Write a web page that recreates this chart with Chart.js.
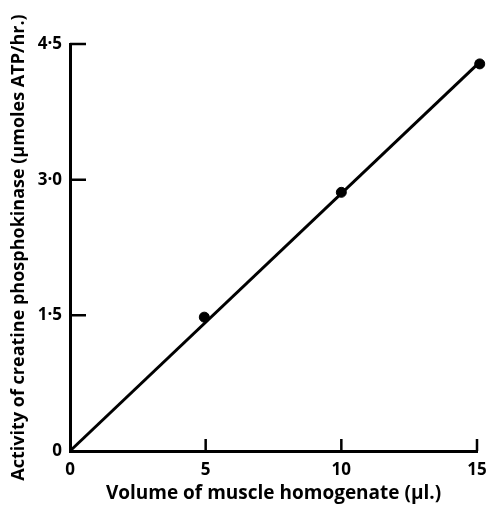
<!DOCTYPE html>
<html>
<head>
<meta charset="utf-8">
<script src="https://cdn.jsdelivr.net/npm/chart.js@4.4.0/dist/chart.umd.min.js"></script>
<style>
  html, body { margin: 0; padding: 0; background: #fff; }
  #wrap { width: 487px; height: 506px; }
</style>
</head>
<body>
<div id="wrap"><canvas id="c" width="487" height="506"></canvas></div>
<script>
const volumes = [4.95, 10.0, 15.1];
const activity = [1.48, 2.86, 4.28];
const fitX = [0, 15.1];
const fitY = [0, 4.3];
const xTicks = [0, 5, 10, 15];
const yTicks = [0, 1.5, 3.0, 4.5];
const yTickLabels = ['0', '1·5', '3·0', '4·5'];
const xTickLabels = ['0', '5', '10', '15'];
const xTitle = 'Volume of muscle homogenate (µl.)';
const yTitle = 'Activity of creatine phosphokinase (µmoles ATP/hr.)';

const FONT = '"Open Sans", "DejaVu Sans", sans-serif';

const inwardTicks = {
  id: 'inwardTicks',
  afterDatasetsDraw(chart) {
    const ctx = chart.ctx;
    const xs = chart.scales.x, ys = chart.scales.y;
    const area = chart.chartArea;
    ctx.save();
    ctx.strokeStyle = '#000';
    ctx.lineWidth = 2.5;
    ctx.beginPath();
    xTicks.forEach(v => {
      if (v === 0) return;
      const px = xs.getPixelForValue(v);
      ctx.moveTo(px, area.bottom);
      ctx.lineTo(px, area.bottom - 12);
    });
    yTicks.forEach(v => {
      if (v === 0) return;
      const py = ys.getPixelForValue(v);
      ctx.moveTo(area.left, py);
      ctx.lineTo(area.left + 16, py);
    });
    ctx.stroke();
    ctx.restore();
  }
};

new Chart(document.getElementById('c'), {
  type: 'scatter',
  data: {
    datasets: [
      {
        type: 'line',
        data: fitX.map((x, i) => ({ x: x, y: fitY[i] })),
        borderColor: '#000',
        borderWidth: 3,
        pointRadius: 0,
        fill: false,
        clip: false
      },
      {
        data: volumes.map((x, i) => ({ x: x, y: activity[i] })),
        backgroundColor: '#000',
        borderColor: '#000',
        pointRadius: 5,
        pointStyle: 'circle',
        clip: false
      }
    ]
  },
  options: {
    responsive: false,
    animation: false,
    devicePixelRatio: 1,
    layout: { padding: { left: 0, right: 0, top: 44, bottom: 0 } },
    plugins: { legend: { display: false }, tooltip: { enabled: false } },
    scales: {
      x: {
        type: 'linear',
        min: 0, max: 15,
        afterFit(s) { s.height = 55; s.paddingRight = 10; s.paddingLeft = 0; },
        afterBuildTicks(s) { s.ticks = xTicks.map(v => ({ value: v })); },
        grid: { display: false, drawTicks: false },
        border: { display: true, color: '#000', width: 3 },
        ticks: {
          color: '#000',
          padding: 9,
          font: { family: FONT, size: 17, weight: 'bold' },
          callback(v) { const i = xTicks.indexOf(v); return i >= 0 ? xTickLabels[i] : ''; }
        },
        title: {
          display: true,
          text: xTitle,
          color: '#000',
          font: { family: FONT, size: 19, weight: 'bold' },
          padding: { top: 0, bottom: 1 }
        }
      },
      y: {
        type: 'linear',
        min: 0, max: 4.5,
        afterFit(s) { s.width = 70; },
        afterBuildTicks(s) { s.ticks = yTicks.map(v => ({ value: v })); },
        grid: { display: false, drawTicks: false },
        border: { display: true, color: '#000', width: 3 },
        ticks: {
          color: '#000',
          padding: 8,
          font: { family: FONT, size: 17, weight: 'bold' },
          callback(v) { const i = yTicks.indexOf(v); return i >= 0 ? yTickLabels[i] : ''; }
        },
        title: {
          display: true,
          text: yTitle,
          color: '#000',
          font: { family: FONT, size: 18, weight: 'bold' },
          padding: { top: 8, bottom: 0 }
        }
      }
    }
  },
  plugins: [inwardTicks]
});
</script>
</body>
</html>
